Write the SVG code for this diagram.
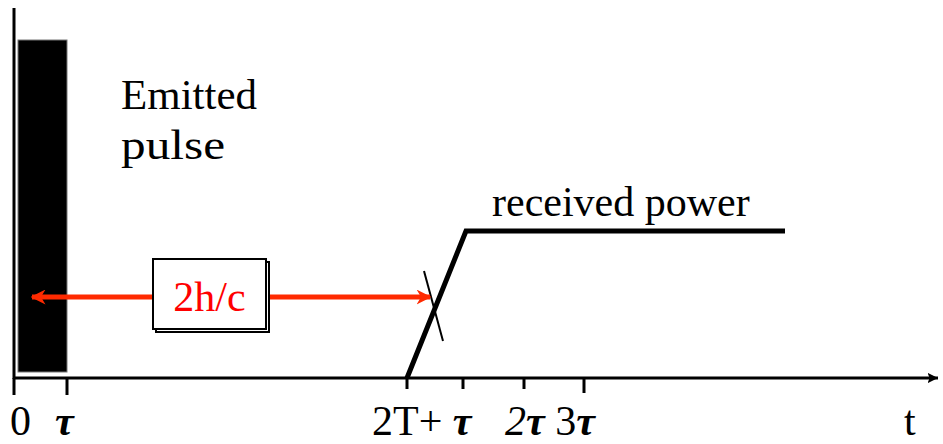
<svg xmlns="http://www.w3.org/2000/svg" width="943" height="444" viewBox="0 0 943 444">
<defs>
<style>
.t{font-family:'Liberation Serif','Times New Roman',serif;font-size:42px}
.tau{font-style:italic;font-weight:bold}
.ax{stroke:#000;stroke-width:3;fill:none}
.red{stroke:#ff2a00;stroke-width:5;fill:none}
</style>
<marker id="ah" viewBox="0 0 10 10" refX="9" refY="5" markerWidth="3" markerHeight="3" orient="auto-start-reverse">
<path d="M0,0 L10,5 L0,10 L3,5 z" fill="#ff2a00"/>
</marker>
<marker id="axa" viewBox="0 0 10 10" refX="10" refY="5" markerWidth="3.5" markerHeight="3.5" orient="auto">
<path d="M0,0 L10,5 L0,10 L2,5 z" fill="#000"/>
</marker>
</defs>
<rect width="943" height="444" fill="#fff"/>

<g id="axes">
<line class="ax" x1="14" y1="8" x2="14" y2="379"/>
<line class="ax" x1="13" y1="378" x2="938" y2="378" marker-end="url(#axa)"/>
<line class="ax" x1="14" y1="378" x2="14" y2="395"/>
<line class="ax" x1="67" y1="378" x2="67" y2="395"/>
<line class="ax" x1="407" y1="378" x2="407" y2="389"/>
<line class="ax" x1="463" y1="378" x2="463" y2="389"/>
<line class="ax" x1="524" y1="378" x2="524" y2="389"/>
<line class="ax" x1="584" y1="378" x2="584" y2="393"/>
</g>

<g id="emitted-pulse">
<rect x="18" y="40" width="49" height="332" fill="#000" stroke="#777" stroke-width="1"/>
<text class="t" x="121" y="109" textLength="136" lengthAdjust="spacingAndGlyphs">Emitted</text>
<text class="t" x="121" y="159" textLength="104" lengthAdjust="spacingAndGlyphs">pulse</text>
</g>

<g id="received-power">
<polyline points="407,378 466,231 785,231" fill="none" stroke="#000" stroke-width="5" stroke-linejoin="miter"/>
<line x1="424" y1="271" x2="443" y2="341" stroke="#000" stroke-width="2"/>
<text class="t" x="492" y="216">received power</text>
</g>

<g id="connectors">
<line class="red" x1="32" y1="297" x2="430" y2="297" marker-start="url(#ah)" marker-end="url(#ah)"/>
</g>

<g id="label-2hc">
<rect x="156" y="262" width="113" height="70" fill="#fff" stroke="#000" stroke-width="2"/>
<rect x="153" y="259" width="113" height="70" fill="#fff" stroke="#000" stroke-width="2"/>
<text class="t" x="209.5" y="311" text-anchor="middle" fill="#ff0000">2h/c</text>
</g>

<g id="labels">
<text class="t" x="10" y="435">0</text>
<text class="t tau" x="55" y="435">τ</text>
<text class="t" x="372" y="435">2T+ <tspan class="tau">τ</tspan></text>
<text class="t" x="505" y="435"><tspan font-style="italic">2</tspan><tspan class="tau">τ</tspan> 3<tspan class="tau">τ</tspan></text>
<text class="t" x="904" y="435">t</text>
</g>
</svg>
